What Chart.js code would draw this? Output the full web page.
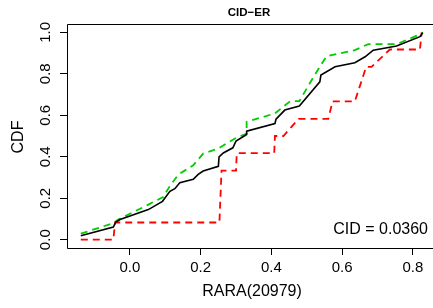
<!DOCTYPE html>
<html>
<head>
<meta charset="utf-8">
<script src="https://cdn.jsdelivr.net/npm/chart.js@4"></script>
<style>
  html, body { margin: 0; padding: 0; background: #fff; }
</style>
</head>
<body>
<canvas id="cdfChart" width="433" height="308"></canvas>
<script>
// Tick labels
const xTicks = [0, 0.2, 0.4, 0.6, 0.8];
const yTicks = [0, 0.2, 0.4, 0.6, 0.8, 1.0];

// All samples (black solid)
const blackX = [-0.139, -0.047, -0.040, -0.028, 0.052, 0.092, 0.113, 0.127, 0.141, 0.179, 0.193, 0.207, 0.250, 0.252, 0.264, 0.291, 0.300, 0.330, 0.330, 0.410, 0.413, 0.438, 0.479, 0.537, 0.540, 0.580, 0.636, 0.665, 0.688, 0.754, 0.820, 0.828];
const blackY = [0.019, 0.061, 0.085, 0.097, 0.145, 0.185, 0.233, 0.246, 0.275, 0.291, 0.315, 0.331, 0.354, 0.399, 0.418, 0.443, 0.476, 0.507, 0.523, 0.560, 0.581, 0.625, 0.644, 0.761, 0.794, 0.834, 0.853, 0.882, 0.914, 0.934, 0.979, 0.998];

// Green dashed
const greenX = [-0.139, -0.047, -0.033, 0.052, 0.094, 0.113, 0.137, 0.179, 0.207, 0.250, 0.297, 0.330, 0.330, 0.410, 0.453, 0.479, 0.514, 0.537, 0.556, 0.636, 0.674, 0.754, 0.820, 0.828];
const greenY = [0.029, 0.080, 0.097, 0.169, 0.206, 0.259, 0.314, 0.359, 0.415, 0.440, 0.488, 0.512, 0.568, 0.609, 0.668, 0.668, 0.770, 0.834, 0.885, 0.914, 0.943, 0.943, 0.990, 1.000];

// Red dashed
const redX = [-0.139, -0.047, -0.042, 0.253, 0.259, 0.300, 0.302, 0.408, 0.410, 0.434, 0.477, 0.561, 0.573, 0.636, 0.668, 0.683, 0.735, 0.820, 0.825];
const redY = [0, 0, 0.083, 0.083, 0.333, 0.333, 0.417, 0.417, 0.500, 0.500, 0.583, 0.583, 0.667, 0.667, 0.833, 0.833, 0.917, 0.917, 1.000];

const titleText = 'CID\u2212ER';
const xTitle = 'RARA(20979)';
const yTitle = 'CDF';
const cidText = 'CID = 0.0360';

const FONT = '"Liberation Sans", Arial, Helvetica, sans-serif';

function pts(xs, ys) {
    return xs.map((x, i) => ({ x: x, y: ys[i] }));
}

const rPlotPlugin = {
    id: 'rPlot',
    afterDraw(chart) {
        const ctx = chart.ctx;
        const a = chart.chartArea;
        const xs = chart.scales.x;
        const ys = chart.scales.y;
        ctx.save();

        // box (right side falls outside the canvas)
        ctx.strokeStyle = '#000';
        ctx.lineWidth = 1;
        ctx.beginPath();
        ctx.moveTo(a.right + 5, Math.round(a.top) + 0.5);
        ctx.lineTo(Math.round(a.left) + 0.5, Math.round(a.top) + 0.5);
        ctx.lineTo(Math.round(a.left) + 0.5, Math.round(a.bottom) + 0.5);
        ctx.lineTo(a.right + 5, Math.round(a.bottom) + 0.5);
        ctx.stroke();

        ctx.fillStyle = '#000';
        // x tick labels
        ctx.font = '15px ' + FONT;
        ctx.textAlign = 'center';
        ctx.textBaseline = 'middle';
        xTicks.forEach(v => {
            ctx.fillText(v.toFixed(1), xs.getPixelForValue(v), 268);
        });
        // y tick labels, rotated like R
        yTicks.forEach(v => {
            ctx.save();
            ctx.translate(46, ys.getPixelForValue(v));
            ctx.rotate(-Math.PI / 2);
            ctx.fillText(v.toFixed(1), 0, 0);
            ctx.restore();
        });

        // axis titles
        ctx.font = '16px ' + FONT;
        ctx.fillText(xTitle, 252, 292);
        ctx.save();
        ctx.translate(19, 137);
        ctx.rotate(-Math.PI / 2);
        ctx.fillText(yTitle, 0, 0);
        ctx.restore();

        // main title
        ctx.font = 'bold 11.5px ' + FONT;
        ctx.fillText(titleText, 249, 12.5);

        // CID annotation
        ctx.font = '16px ' + FONT;
        ctx.textAlign = 'right';
        ctx.textBaseline = 'alphabetic';
        ctx.fillText(cidText, 428, 233.5);

        ctx.restore();
    }
};

const ctx = document.getElementById('cdfChart').getContext('2d');
new Chart(ctx, {
    type: 'scatter',
    data: {
        datasets: [
            {
                label: 'all',
                data: pts(blackX, blackY),
                showLine: true,
                borderColor: '#000000',
                borderWidth: 1.6,
                pointRadius: 0,
                tension: 0
            },
            {
                label: 'green',
                data: pts(greenX, greenY),
                showLine: true,
                borderColor: '#00cd00',
                borderWidth: 1.8,
                borderDash: [7, 5],
                pointRadius: 0,
                tension: 0
            },
            {
                label: 'red',
                data: pts(redX, redY),
                showLine: true,
                borderColor: '#ff0000',
                borderWidth: 1.8,
                borderDash: [7, 5],
                pointRadius: 0,
                tension: 0
            }
        ]
    },
    options: {
        responsive: false,
        animation: false,
        devicePixelRatio: 1,
        layout: { padding: { top: 24, left: 0, right: 0, bottom: 0 } },
        plugins: {
            legend: { display: false },
            title: { display: false },
            tooltip: { enabled: false }
        },
        scales: {
            x: {
                type: 'linear',
                min: -0.178,
                max: 0.857,
                afterBuildTicks: s => { s.ticks = xTicks.map(v => ({ value: v })); },
                afterFit: s => { s.height = 60; },
                ticks: { color: 'rgba(0,0,0,0)', font: { size: 12 } },
                grid: { drawOnChartArea: false, drawTicks: true, tickLength: 7, color: '#000', lineWidth: 1 },
                border: { display: false }
            },
            y: {
                type: 'linear',
                min: -0.04,
                max: 1.04,
                afterBuildTicks: s => { s.ticks = yTicks.map(v => ({ value: v })); },
                afterFit: s => { s.width = 67; },
                ticks: { color: 'rgba(0,0,0,0)', font: { size: 12 } },
                grid: { drawOnChartArea: false, drawTicks: true, tickLength: 7, color: '#000', lineWidth: 1 },
                border: { display: false }
            }
        }
    },
    plugins: [rPlotPlugin]
});
</script>
</body>
</html>
